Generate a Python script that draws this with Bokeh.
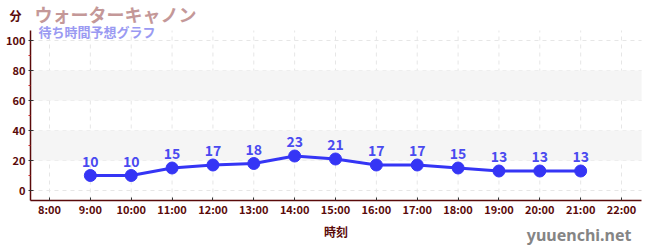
from bokeh.plotting import figure
from bokeh.models import (ColumnDataSource, FixedTicker, Label, BoxAnnotation, LabelSet)
from bokeh.core.properties import value
from bokeh.embed import file_html
from bokeh.resources import INLINE

hours = [9, 10, 11, 12, 13, 14, 15, 16, 17, 18, 19, 20, 21]
waits = [10, 10, 15, 17, 18, 23, 21, 17, 17, 15, 13, 13, 13]
tick_hours = list(range(8, 23))
tick_labels = [f"{h}:00" for h in tick_hours]
y_ticks = [0, 20, 40, 60, 80, 100]
y_minor = [10, 30, 50, 70, 90]
bands = [(20, 40), (60, 80)]
title_text = "ウォーターキャノン"
subtitle_text = "待ち時間予想グラフ"
y_unit = "分"
x_title = "時刻"
site = "yuuenchi.net"

FONT = "Noto Sans CJK JP"
MAROON = "#5a0a0a"

# plot-area extents in data units
X0, X1 = 7.535, 22.49
Y0, Y1 = -6.67, 106.67

p = figure(width=650, height=250, output_backend="svg", toolbar_location=None,
           x_range=(6.8008, 22.709), y_range=(-40.0, 126.67),
           min_border=0)
p.outline_line_color = None
p.background_fill_color = "white"
p.border_fill_color = "white"
p.xgrid.visible = False
p.ygrid.visible = False

for lo, hi in bands:
    p.add_layout(BoxAnnotation(bottom=lo, top=hi, left=X0, right=X1, fill_color="#f5f5f5",
                               fill_alpha=1, line_color=None, level="underlay"))

# dashed grid limited to the plot area
p.segment(x0=tick_hours, x1=tick_hours, y0=[Y0] * len(tick_hours), y1=[Y1] * len(tick_hours),
          line_color="#e6e6e6", line_dash="4 4", line_width=1, level="underlay")
p.segment(x0=[X0] * len(y_ticks), x1=[X1] * len(y_ticks), y0=y_ticks, y1=y_ticks,
          line_color="#e6e6e6", line_dash="4 4", line_width=1, level="underlay")

p.xaxis.ticker = FixedTicker(ticks=tick_hours)
p.xaxis.major_label_overrides = {h: l for h, l in zip(tick_hours, tick_labels)}
p.yaxis.ticker = FixedTicker(ticks=y_ticks, minor_ticks=y_minor)
p.xaxis.fixed_location = Y0
p.yaxis.fixed_location = X0
p.xaxis.bounds = (X0, X1)
p.yaxis.bounds = (Y0, Y1)

for ax in (p.xaxis, p.yaxis):
    ax.axis_line_color = MAROON
    ax.axis_line_width = 1.5
    ax.major_label_text_color = MAROON
    ax.major_label_text_font = FONT
    ax.major_label_text_font_style = "bold"
    ax.major_label_text_font_size = "11px"
    ax.major_tick_line_color = "#333333"

p.xaxis.major_tick_in = 3
p.xaxis.major_tick_out = 0
p.xaxis.minor_tick_line_color = None
p.xaxis.major_label_standoff = 0
p.yaxis.major_tick_in = 3
p.yaxis.major_tick_out = 2
p.yaxis.minor_tick_line_color = "#cc2222"
p.yaxis.minor_tick_in = 0
p.yaxis.minor_tick_out = 2
p.yaxis.major_label_standoff = 3

p.xaxis.axis_label = x_title
p.xaxis.axis_label_text_font = FONT
p.xaxis.axis_label_text_font_style = "bold"
p.xaxis.axis_label_text_font_size = "12px"
p.xaxis.axis_label_text_color = MAROON
p.xaxis.axis_label_standoff = 3

src = ColumnDataSource(dict(x=hours, y=waits, t=[str(v) for v in waits]))
p.line("x", "y", source=src, line_color="#3535f5", line_width=3)
p.scatter("x", "y", source=src, size=12, fill_color="#3535f5", line_color="#3535f5")
p.add_layout(LabelSet(x="x", y="y", text="t", source=src, y_offset=9, text_align="center",
                      text_font=value(FONT), text_font_style="bold", text_font_size="14px",
                      text_color="#4a4af0"))

p.add_layout(Label(x=34, y=237, x_units="screen", y_units="screen", text=title_text,
                   text_font=FONT, text_font_style="bold", text_font_size="18px",
                   text_color="#c49898", text_baseline="middle"))
p.add_layout(Label(x=38, y=219, x_units="screen", y_units="screen", text=subtitle_text,
                   text_font=FONT, text_font_style="bold", text_font_size="13px",
                   text_color="#9a9af2", text_baseline="middle"))
p.add_layout(Label(x=15, y=235, x_units="screen", y_units="screen", text=y_unit,
                   text_font=FONT, text_font_style="bold", text_font_size="12px",
                   text_color=MAROON, text_baseline="middle", text_align="center"))
p.add_layout(Label(x=631, y=16, x_units="screen", y_units="screen", text=site,
                   text_font="Noto Sans", text_font_style="bold", text_font_size="16px",
                   text_color="#858585", text_baseline="middle", text_align="right"))

open("out.html", "w").write(file_html(p, INLINE))
